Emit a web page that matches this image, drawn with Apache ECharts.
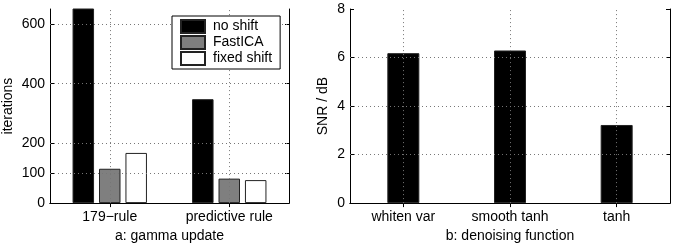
<!DOCTYPE html>
<html lang="en">
<head>
<meta charset="utf-8" />
<script src="https://cdn.jsdelivr.net/npm/echarts@6/dist/echarts.min.js"></script>
<style>
  html, body { margin: 0; background: #fff; }
  #chart { width: 676px; height: 248px; }
</style>
</head>
<body>
<div id="chart"></div>
<script>
  // panel a: iterations per gamma update rule
  var updateRules = ["179−rule", "predictive rule"];
  var noShift = [660, 348];
  var fastIca = [115, 82];
  var fixedShift = [168, 77];
  var iterTicks = [0, 100, 200, 400, 600];
  var iterGrid = [100, 200, 400, 600];

  // panel b: SNR per denoising function
  var denoisers = ["whiten var", "smooth tanh", "tanh"];
  var snr = [6.18, 6.29, 3.22];
  var snrTicks = [0, 2, 4, 6, 8];
  var snrGrid = [2, 4, 6];

  var font = "Liberation Sans";
  var fs = 14;
  var dotted = { color: "#777", type: [1, 3], width: 1 };

  function gridLines(yVals, cats) {
    return {
      symbol: "none",
      silent: true,
      label: { show: false },
      lineStyle: dotted,
      emphasis: { disabled: true },
      data: yVals.map(function (v) { return { yAxis: v }; })
        .concat(cats.map(function (c) { return { xAxis: c }; }))
    };
  }

  function valueAxis(idx, min, max, ticks, name, gap) {
    return [
      {
        gridIndex: idx, type: "value", min: min, max: max,
        name: name, nameLocation: "middle", nameGap: gap,
        nameTextStyle: { fontFamily: font, fontSize: fs, color: "#000" },
        axisLine: { show: true, lineStyle: { color: "#000", width: 1 } },
        axisTick: { show: true, inside: true, length: 4, customValues: ticks, lineStyle: { color: "#000" } },
        axisLabel: { customValues: ticks, fontFamily: font, fontSize: fs, color: "#000", margin: 5 },
        splitLine: { show: false }
      },
      {
        gridIndex: idx, type: "value", min: min, max: max, position: "right",
        axisLine: { show: true, lineStyle: { color: "#000", width: 1 } },
        axisTick: { show: true, inside: true, length: 4, customValues: ticks, lineStyle: { color: "#000" } },
        axisLabel: { show: false },
        splitLine: { show: false }
      }
    ];
  }

  function catAxis(idx, cats, name) {
    return [
      {
        gridIndex: idx, type: "category", data: cats,
        name: name, nameLocation: "middle", nameGap: 25,
        nameTextStyle: { fontFamily: font, fontSize: fs, color: "#000" },
        axisLine: { show: true, lineStyle: { color: "#000", width: 1 } },
        axisTick: { show: true, inside: true, length: 4, alignWithLabel: true, lineStyle: { color: "#000" } },
        axisLabel: { fontFamily: font, fontSize: fs, color: "#000", margin: 7 },
        splitLine: { show: false }
      },
      {
        gridIndex: idx, type: "category", data: cats, position: "top",
        axisLine: { show: true, lineStyle: { color: "#000", width: 1 } },
        axisTick: { show: true, inside: true, length: 4, alignWithLabel: true, lineStyle: { color: "#000" } },
        axisLabel: { show: false },
        splitLine: { show: false }
      }
    ];
  }

  var barBorder = { borderColor: "#222", borderWidth: 1 };

  var chart = echarts.init(document.getElementById("chart"), null, { renderer: "canvas" });
  chart.setOption({
    animation: false,
    backgroundColor: "#fff",
    textStyle: { fontFamily: font },
    grid: [
      { left: 50, top: 9, width: 239, height: 197 },
      { left: 350, top: 9, width: 320, height: 197 }
    ],
    legend: {
      data: ["no shift", "FastICA", "fixed shift"],
      orient: "vertical",
      left: 172, top: 16,
      padding: [3, 8, 3, 8],
      icon: "rect",
      itemWidth: 24, itemHeight: 13, itemGap: 1,
      backgroundColor: "#fff",
      borderColor: "#000", borderWidth: 1, borderRadius: 0,
      textStyle: { fontFamily: font, fontSize: fs, color: "#000", padding: [0, 0, 0, 3] },
      z: 10
    },
    xAxis: catAxis(0, updateRules, "a: gamma update").concat(catAxis(1, denoisers, "b: denoising function")),
    yAxis: valueAxis(0, 0, 650, iterTicks, "iterations", 35).concat(valueAxis(1, 0, 8, snrTicks, "SNR / dB", 20)),
    series: [
      {
        type: "line", xAxisIndex: 0, yAxisIndex: 0, data: [], z: 1, silent: true,
        markLine: gridLines(iterGrid, updateRules)
      },
      {
        name: "no shift", type: "bar", xAxisIndex: 0, yAxisIndex: 0, data: noShift,
        barWidth: 21.5, barGap: "23%", z: 3,
        itemStyle: Object.assign({ color: "#000" }, barBorder)
      },
      {
        name: "FastICA", type: "bar", xAxisIndex: 0, yAxisIndex: 0, data: fastIca,
        barWidth: 21.5, barGap: "23%", z: 3,
        itemStyle: Object.assign({ color: "#7f7f7f" }, barBorder)
      },
      {
        name: "fixed shift", type: "bar", xAxisIndex: 0, yAxisIndex: 0, data: fixedShift,
        barWidth: 21.5, barGap: "23%", z: 3,
        itemStyle: Object.assign({ color: "#fff" }, barBorder)
      },
      {
        type: "line", xAxisIndex: 2, yAxisIndex: 2, data: [], z: 1, silent: true,
        markLine: gridLines(snrGrid, denoisers)
      },
      {
        name: "SNR", type: "bar", xAxisIndex: 2, yAxisIndex: 2, data: snr,
        barWidth: 32, z: 3,
        itemStyle: Object.assign({ color: "#000" }, barBorder)
      }
    ]
  });
</script>
</body>
</html>
